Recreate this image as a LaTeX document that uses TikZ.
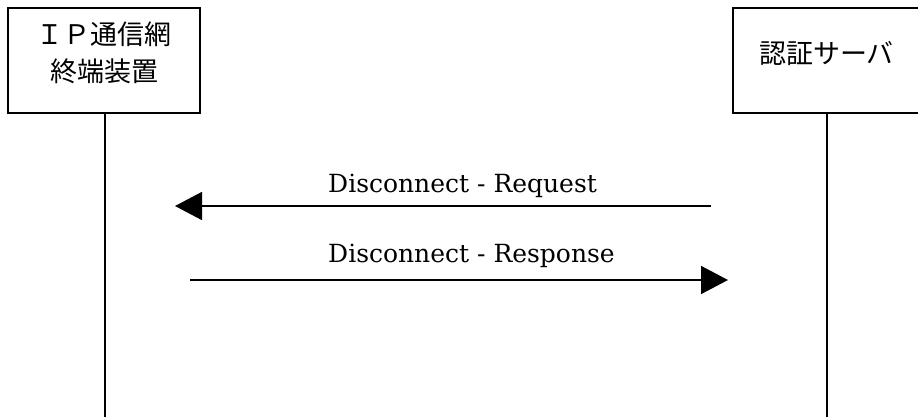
\documentclass[tikz,border=0pt]{standalone}
\usepackage{fontspec}
\setmainfont{DejaVu Serif}
\newfontfamily\jpfont{Noto Sans CJK JP}
\usepackage{tikz}
\usetikzlibrary{arrows.meta}

\begin{document}
\begin{tikzpicture}[x=1pt,y=-1pt,
		actor/.style={shape=rectangle,draw=black,line width=1.2pt,minimum height=105pt,align=center,font=\jpfont\fontsize{27}{37}\selectfont},
		life/.style={line width=1.6pt},
		msg/.style={line width=1.6pt,-{Triangle[length=27pt,width=28pt]}},
		msglabel/.style={anchor=base west,inner sep=0pt,font=\fontsize{25}{30}\selectfont}]
		\useasboundingbox (0,0) rectangle (918,416);
		\node[actor,minimum width=192pt,text depth=17pt] (term) at (104,60.5) {ＩＰ通信網\\終端装置};
		\node[actor,minimum width=187pt,text depth=17pt] (auth) at (826.5,60.5) {認証サーバ};
		\coordinate (termend) at (105,418);
		\coordinate (authend) at (827,418);
		\draw [life] (term.south -| termend) -- (termend);
		\draw [life] (auth.south -| authend) -- (authend);
		\coordinate (req0) at (711,206);
		\coordinate (req1) at (175,206);
		\coordinate (res0) at (190,280);
		\coordinate (res1) at (728,280);
		\draw [msg] (req0) -- (req1);
		\draw [msg] (res0) -- (res1);
		\node[msglabel] (reqtxt) at (328,192) {Disconnect - Request};
		\node[msglabel] (restxt) at (328,262) {Disconnect - Response};
	\end{tikzpicture}
\end{document}
